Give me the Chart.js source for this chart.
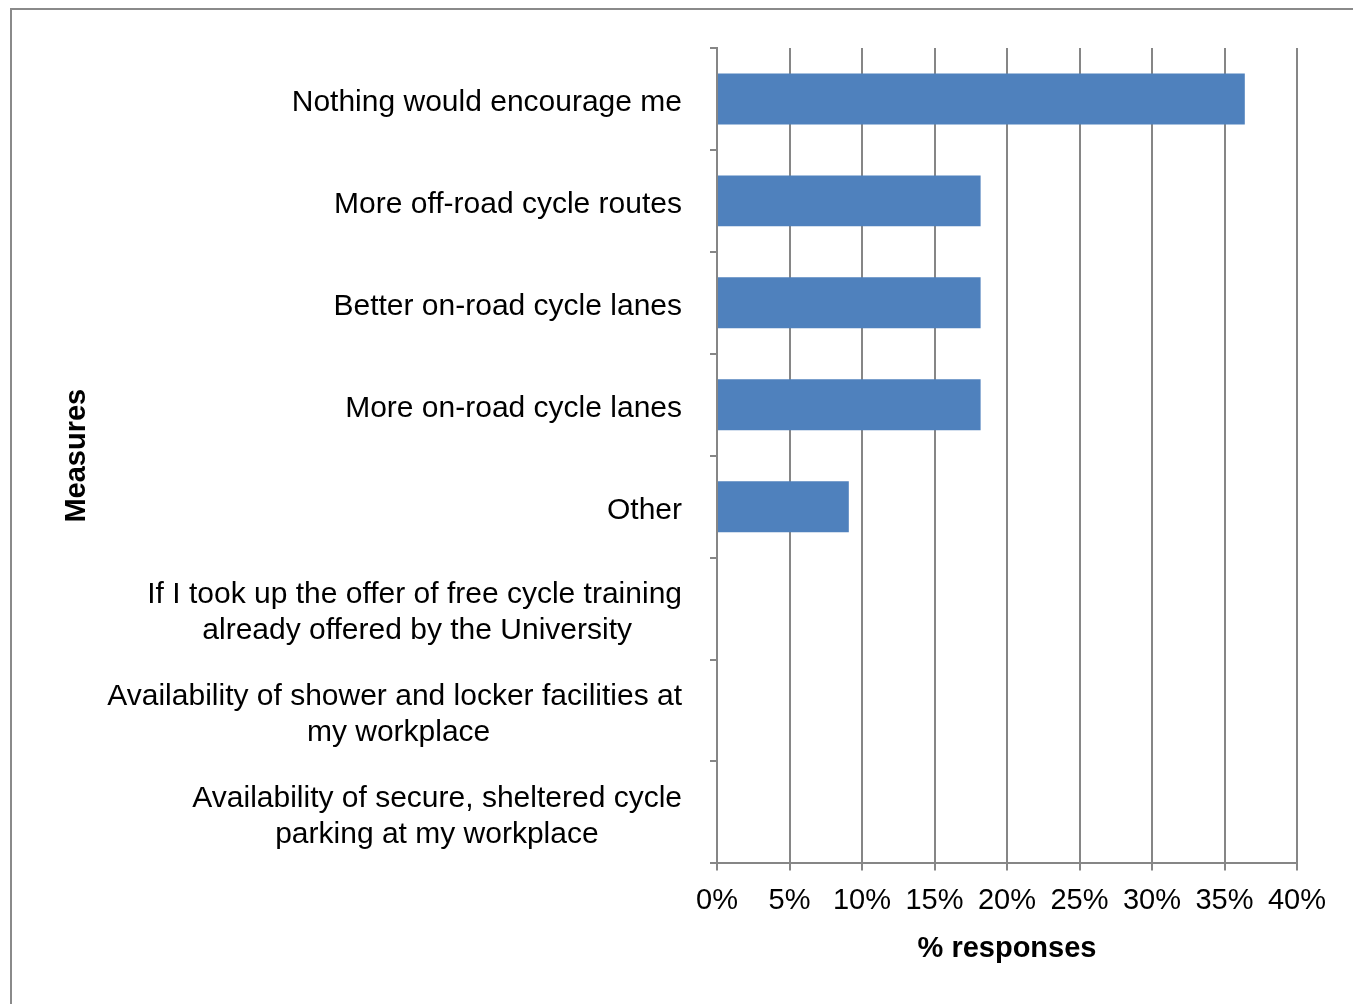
<!DOCTYPE html>
<html>
<head>
<meta charset="utf-8">
<script src="https://cdn.jsdelivr.net/npm/chart.js@4.4.1/dist/chart.umd.min.js"></script>
<style>
  html, body { margin: 0; padding: 0; background: #fff; overflow: hidden; }
  #frame { position: absolute; left: 10px; top: 8px; width: 1400px; height: 1100px; border: 2px solid #8a8a8a; box-sizing: border-box; }
  #c { position: absolute; left: 0; top: 0; }
</style>
</head>
<body>
<div id="frame"></div>
<canvas id="c" width="1353" height="1004"></canvas>
<script>
const categories = [
  ["Nothing would encourage me"],
  ["More off-road cycle routes"],
  ["Better on-road cycle lanes"],
  ["More on-road cycle lanes"],
  ["Other"],
  ["If I took up the offer of free cycle training", "already offered by the University"],
  ["Availability of shower and locker facilities at", "my workplace"],
  ["Availability of secure, sheltered cycle", "parking at my workplace"]
];
const values = [36.4, 18.18, 18.18, 18.18, 9.09, 0, 0, 0];
const xTicks = [0, 5, 10, 15, 20, 25, 30, 35, 40];
const xTitle = "% responses";
const yTitle = "Measures";

const FONT = "'Liberation Sans', Arial, sans-serif";
const GRID = "#868686";
const LABEL_SIZE = 30;

const mctx = document.createElement('canvas').getContext('2d');
mctx.font = LABEL_SIZE + "px " + FONT;
const spaceW = mctx.measureText(' ').width;
function centerLines(lines) {
  if (lines.length === 1) return lines[0];
  const widths = lines.map(l => mctx.measureText(l).width);
  const maxW = Math.max(...widths);
  return lines.map((l, i) => {
    const n = Math.round((maxW - widths[i]) / 2 / spaceW);
    return l + ' '.repeat(n);
  });
}

new Chart(document.getElementById('c'), {
  type: 'bar',
  data: {
    labels: categories.map(c => c.join(' ')),
    datasets: [{
      data: values,
      backgroundColor: '#4F81BD',
      borderWidth: 0,
      barPercentage: 0.5,
      categoryPercentage: 1.0
    }]
  },
  options: {
    indexAxis: 'y',
    responsive: false,
    animation: false,
    devicePixelRatio: 1,
    layout: { padding: { left: 20, right: 56, top: 48, bottom: 38 } },
    plugins: { legend: { display: false }, tooltip: { enabled: false } },
    scales: {
      x: {
        min: 0, max: 40,
        afterBuildTicks: (s) => { s.ticks = xTicks.map(v => ({ value: v })); },
        ticks: {
          callback: v => v + '%',
          color: '#000',
          font: { family: FONT, size: 29 },
          padding: 13,
          maxRotation: 0,
          autoSkip: false
        },
        grid: { color: GRID, lineWidth: 2, tickLength: 7, drawTicks: true },
        border: { color: GRID, width: 2 },
        title: {
          display: true, text: xTitle, color: '#000',
          font: { family: FONT, size: 29, weight: 'bold' },
          padding: { top: 0, bottom: 0 }
        }
      },
      y: {
        afterFit: (s) => { s.width = 717 - 20; s.paddingTop = 0; s.paddingBottom = 0; },
        ticks: {
          callback: (v, i) => centerLines(categories[i]),
          color: '#000',
          font: { family: FONT, size: LABEL_SIZE },
          padding: 28,
          labelOffset: 4,
          autoSkip: false
        },
        grid: { color: GRID, lineWidth: 2, tickLength: 7, drawOnChartArea: false, offset: true },
        border: { color: GRID, width: 2 },
        title: {
          display: true, text: yTitle, color: '#000',
          font: { family: FONT, size: 29, weight: 'bold' },
          padding: { top: 40, bottom: 0 }
        }
      }
    }
  }
});
</script>
</body>
</html>
